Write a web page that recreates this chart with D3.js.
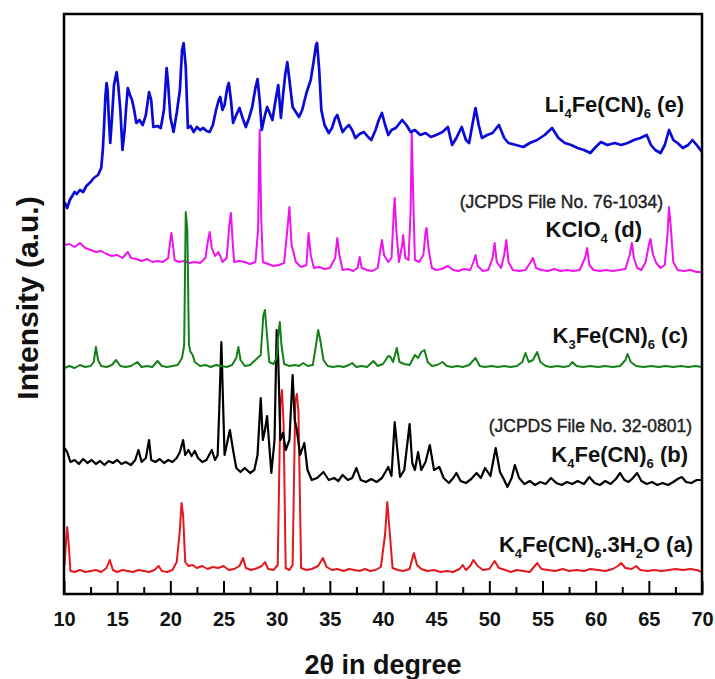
<!DOCTYPE html>
<html>
<head>
<meta charset="utf-8">
<script src="https://cdn.jsdelivr.net/npm/d3@7"></script>
<style>
  body { margin: 0; background: #fff; }
  text { font-family: "Liberation Sans", Arial, sans-serif; }
</style>
</head>
<body>
<div id="chart"></div>
<script>
// XRD patterns, offset-stacked as in the figure: [2theta, intensity (a.u.)]
var patternA = [[10.05,29],[10.2,54],[10.3,67],[10.45,49],[10.6,23],[11,22],[11.5,24],[12,22],[12.5,23],[13,24],[13.5,22],[14.0,26],[14.3,34],[14.6,24],[15.0,22],[15.5,24],[16,23],[16.5,22],[17,24],[17.5,23],[18,22],[18.5,24],[18.9,28],[19.2,23],[19.7,22],[20.2,24],[20.6,32],[20.9,64],[21.05,91],[21.2,79],[21.4,32],[21.7,28],[22.1,29],[22.5,26],[23,28],[23.5,25],[24,27],[24.5,26],[25,28],[25.5,24],[26,25],[26.5,28],[26.85,36],[27.1,26],[27.6,24],[28.2,26],[28.6,28],[28.9,32],[29.2,25],[29.7,24],[30.1,29],[30.35,190],[30.5,204],[30.65,170],[30.85,26],[31.2,24],[31.5,29],[31.75,192],[31.9,200],[32.05,182],[32.3,26],[32.8,24],[33.3,25],[33.9,28],[34.35,36],[34.7,27],[35.2,24],[35.7,25],[36.3,23],[36.8,25],[37.3,24],[37.8,23],[38.3,25],[38.8,23],[39.3,24],[39.8,27],[40.2,60],[40.4,92],[40.6,66],[40.9,26],[41.4,24],[41.9,23],[42.5,25],[42.9,41],[43.2,29],[43.6,25],[44.2,23],[44.8,24],[45.4,22],[46,23],[46.6,22],[47.2,25],[47.5,29],[47.8,24],[48.2,28],[48.5,34],[48.9,28],[49.4,24],[50,25],[50.5,33],[50.9,26],[51.5,24],[52,22],[52.6,24],[53.2,23],[53.8,22],[54.5,31],[54.9,25],[55.5,24],[56.2,23],[56.9,25],[57.5,23],[58.2,24],[58.9,23],[59.5,25],[60.2,24],[60.9,23],[61.6,25],[62.1,28],[62.4,31],[62.8,26],[63.4,25],[63.8,28],[64.2,24],[64.9,23],[65.5,24],[66.2,23],[66.9,24],[67.5,25],[68.2,24],[68.9,25],[69.5,24],[70,22]];

var patternB = [[10.05,146],[10.3,142],[10.6,132],[11,134],[11.4,130],[11.8,135],[12.2,131],[12.6,134],[13,130],[13.4,133],[13.8,129],[14.2,133],[14.6,131],[15,134],[15.4,130],[15.8,132],[16.3,129],[16.7,134],[17.0,144],[17.3,132],[17.7,136],[18.0,154],[18.2,134],[18.6,132],[19,135],[19.4,131],[19.8,134],[20.2,132],[20.6,136],[20.9,142],[21.2,154],[21.4,139],[21.7,144],[22.0,138],[22.3,143],[22.6,136],[23,132],[23.4,134],[23.9,144],[24.2,134],[24.45,139],[24.6,184],[24.8,252],[24.95,194],[25.1,139],[25.4,154],[25.6,164],[25.9,144],[26.2,126],[26.6,122],[27.0,126],[27.5,121],[27.9,124],[28.2,139],[28.5,196],[28.7,154],[28.9,164],[29.1,178],[29.3,149],[29.5,121],[29.8,154],[30.0,264],[30.15,234],[30.35,154],[30.6,161],[30.85,144],[31.2,154],[31.5,219],[31.7,174],[31.9,164],[32.2,139],[32.6,151],[32.9,124],[33.3,114],[33.8,116],[34.4,122],[34.9,114],[35.4,116],[35.8,113],[36.2,119],[36.7,114],[37.1,116],[37.5,126],[37.9,114],[38.4,112],[38.9,115],[39.4,112],[39.9,116],[40.5,127],[40.8,118],[41.1,172],[41.35,144],[41.6,117],[42.0,124],[42.5,170],[42.75,131],[43.0,124],[43.3,142],[43.6,124],[44.0,132],[44.4,149],[44.8,124],[45.3,127],[45.7,116],[46.2,111],[46.6,116],[46.9,121],[47.3,113],[47.8,111],[48.3,115],[48.8,121],[49.2,116],[49.6,126],[50.1,118],[50.6,146],[51.0,122],[51.4,114],[51.7,107],[52.1,116],[52.4,129],[52.8,116],[53.3,110],[53.8,113],[54.3,109],[54.8,112],[55.3,110],[55.8,116],[56.3,111],[56.8,109],[57.3,112],[57.8,110],[58.3,113],[58.9,110],[59.4,117],[59.9,111],[60.4,109],[60.9,113],[61.4,110],[61.9,115],[62.3,121],[62.7,114],[63.1,112],[63.5,116],[63.9,121],[64.3,113],[64.8,110],[65.3,112],[65.8,109],[66.3,111],[66.8,109],[67.3,112],[67.7,115],[68.1,117],[68.5,112],[69.0,111],[69.5,114],[70.0,114]];

var patternC = [[10.05,226],[10.5,228],[11,226],[11.5,229],[12,227],[12.5,228],[12.8,232],[13.0,247],[13.2,234],[13.5,228],[14,227],[14.5,229],[14.9,234],[15.3,228],[15.8,227],[16.3,228],[16.9,232],[17.3,227],[17.8,228],[18.3,227],[18.8,233],[19.2,228],[19.7,227],[20.2,228],[20.7,229],[21.1,236],[21.3,249],[21.45,382],[21.6,364],[21.75,249],[21.9,242],[22.1,239],[22.3,232],[22.8,228],[23.3,229],[23.8,227],[24.3,229],[24.8,228],[25.3,227],[25.8,229],[26.2,236],[26.4,247],[26.6,234],[27,228],[27.5,229],[28.1,235],[28.5,239],[28.75,279],[28.9,284],[29.05,264],[29.3,232],[29.7,230],[30.0,236],[30.2,264],[30.3,272],[30.45,249],[30.7,230],[31.2,228],[31.7,229],[32.1,228],[32.5,231],[32.9,228],[33.4,229],[33.7,249],[33.9,264],[34.1,254],[34.4,234],[34.8,228],[35.3,227],[35.8,228],[36.3,227],[36.8,229],[37.1,231],[37.5,227],[38,228],[38.5,227],[39.1,233],[39.5,228],[40,230],[40.5,238],[40.7,237],[40.95,232],[41.3,246],[41.55,232],[42,230],[42.5,229],[43.0,239],[43.3,236],[43.6,242],[43.9,244],[44.2,232],[44.6,228],[45.1,229],[45.6,232],[46,228],[46.5,227],[47,228],[47.5,227],[48.1,229],[48.7,236],[49.1,228],[49.6,227],[50.2,228],[50.8,227],[51.4,228],[52,227],[52.6,228],[53.1,232],[53.4,241],[53.7,232],[54.1,234],[54.5,242],[54.8,232],[55.3,228],[55.8,227],[56.4,228],[57,227],[57.5,228],[57.8,232],[58.2,228],[58.8,227],[59.5,228],[60.2,227],[60.9,228],[61.6,227],[62.3,228],[62.8,234],[63.0,240],[63.3,232],[63.8,228],[64.5,227],[65.2,228],[65.9,227],[66.6,228],[67.3,227],[68,228],[68.7,227],[69.4,228],[70,227]];

var patternD = [[10.05,349],[10.5,350],[11,347],[11.5,351],[12,346],[12.5,344],[13,342],[13.5,343],[14,340],[14.5,338],[15,339],[15.5,336],[16.0,342],[16.3,336],[16.8,335],[17.3,333],[17.8,335],[18.3,332],[18.8,333],[19.3,332],[19.8,336],[20.0,354],[20.1,361],[20.25,349],[20.4,334],[20.8,332],[21.3,333],[21.8,331],[22.3,332],[22.8,331],[23.3,336],[23.55,354],[23.7,362],[23.9,346],[24.2,338],[24.5,342],[24.7,338],[24.9,332],[25.3,336],[25.55,369],[25.7,381],[25.85,354],[26.0,332],[26.5,333],[27,332],[27.5,330],[28.0,332],[28.25,364],[28.4,464],[28.55,374],[28.7,332],[29.2,330],[29.7,328],[30.2,329],[30.7,331],[31.0,364],[31.2,387],[31.4,349],[31.6,341],[31.8,332],[32.3,327],[32.8,329],[33.0,361],[33.2,339],[33.5,326],[34,327],[34.5,325],[35.0,326],[35.5,336],[35.7,356],[35.9,339],[36.2,324],[36.7,325],[37.2,323],[37.6,326],[37.8,337],[38.0,326],[38.5,324],[39,323],[39.5,326],[39.75,344],[39.9,354],[40.1,339],[40.5,332],[40.8,336],[41.0,379],[41.1,396],[41.25,364],[41.5,332],[41.8,349],[41.9,359],[42.1,336],[42.4,334],[42.6,384],[42.7,461],[42.85,394],[43.0,334],[43.4,332],[43.8,339],[44.0,362],[44.1,366],[44.3,344],[44.6,326],[45,324],[45.5,325],[46.1,328],[46.6,324],[47.1,323],[47.6,325],[48.2,324],[48.5,332],[48.7,339],[48.9,328],[49.4,323],[49.9,324],[50.3,336],[50.5,351],[50.7,332],[51.1,326],[51.4,339],[51.6,354],[51.8,332],[52.2,324],[52.8,323],[53.4,324],[53.9,332],[54.1,336],[54.4,326],[54.9,324],[55.5,323],[56.1,325],[56.7,323],[57.3,324],[57.9,323],[58.5,324],[59.0,336],[59.2,346],[59.4,329],[59.8,324],[60.4,323],[61,324],[61.6,323],[62.2,324],[62.8,325],[63.2,339],[63.4,351],[63.6,336],[63.9,326],[64.3,324],[64.7,332],[65.0,349],[65.15,355],[65.4,339],[65.7,331],[66.1,326],[66.5,329],[66.75,359],[66.9,387],[67.05,369],[67.3,332],[67.7,324],[68.3,323],[68.9,324],[69.5,322],[70,322]];

var patternE = [[10.05,392],[10.3,386],[10.55,394],[11.0,402],[11.2,400],[11.5,404],[11.8,402],[12.1,408],[12.5,412],[12.8,416],[13.2,419],[13.5,426],[13.65,444],[13.75,464],[13.9,499],[14.0,511],[14.1,504],[14.2,479],[14.35,451],[14.5,474],[14.7,509],[14.95,522],[15.1,509],[15.3,484],[15.5,444],[15.7,464],[15.85,487],[16.0,506],[16.2,499],[16.4,494],[16.6,484],[16.8,471],[17.1,474],[17.4,469],[17.7,479],[18.0,502],[18.2,494],[18.4,467],[18.8,468],[19.1,466],[19.4,484],[19.65,526],[19.8,509],[20.0,477],[20.3,462],[20.6,481],[20.9,504],[21.1,544],[21.25,551],[21.45,527],[21.65,466],[21.9,468],[22.2,462],[22.5,467],[22.8,464],[23.1,466],[23.4,463],[23.7,462],[24.0,469],[24.3,484],[24.55,494],[24.7,497],[24.9,484],[25.1,489],[25.35,506],[25.5,511],[25.7,494],[25.9,471],[26.2,479],[26.5,486],[26.8,476],[27.1,467],[27.4,476],[27.7,487],[28.0,506],[28.2,515],[28.4,494],[28.6,464],[28.9,479],[29.1,487],[29.3,482],[29.6,474],[29.9,494],[30.15,509],[30.4,476],[30.6,499],[30.8,519],[31.0,532],[31.2,514],[31.5,487],[31.8,482],[32.1,477],[32.4,484],[32.8,501],[33.2,514],[33.5,534],[33.7,549],[33.8,551],[34.0,524],[34.2,484],[34.5,469],[34.9,461],[35.2,466],[35.5,476],[35.7,479],[35.9,472],[36.2,462],[36.5,466],[36.8,469],[37.1,464],[37.4,456],[37.8,460],[38.2,462],[38.6,457],[38.9,454],[39.3,464],[39.6,474],[39.9,481],[40.2,469],[40.5,459],[40.8,464],[41.2,466],[41.8,474],[42.2,469],[42.6,462],[43.0,464],[43.5,459],[44.0,461],[44.5,457],[45.0,459],[45.6,462],[46.1,467],[46.5,449],[46.9,456],[47.4,467],[47.8,454],[48.1,451],[48.4,469],[48.7,486],[49.0,469],[49.3,456],[49.8,459],[50.3,461],[50.9,469],[51.4,456],[51.8,451],[52.5,449],[53.2,447],[53.8,451],[54.5,454],[55.2,459],[55.9,466],[56.5,456],[57.1,451],[57.7,449],[58.3,446],[58.9,444],[59.5,441],[60.0,447],[60.5,452],[61.1,449],[61.8,451],[62.4,449],[63.0,451],[63.6,454],[64.2,456],[64.8,459],[65.2,449],[65.6,444],[66.1,441],[66.5,449],[66.9,464],[67.3,454],[67.7,451],[68.2,446],[68.7,449],[69.1,454],[69.5,449],[70.0,442]];

// axis ticks
var majorTicks = [10, 15, 20, 25, 30, 35, 40, 45, 50, 55, 60, 65, 70];
var minorTicks = [12.5, 17.5, 22.5, 27.5, 32.5, 37.5, 42.5, 47.5, 52.5, 57.5, 62.5, 67.5];

// series drawn in this order (later ones on top)
var seriesList = [
  { name: "a", data: patternA, color: "#e3171c", width: 2 },
  { name: "b", data: patternB, color: "#000000", width: 2.2 },
  { name: "d", data: patternD, color: "#ee12ee", width: 2 },
  { name: "c", data: patternC, color: "#15801a", width: 2 },
  { name: "e", data: patternE, color: "#0a0ad8", width: 2.7 }
];

// labels: pieces are [text, isSubscript]
var seriesLabels = [
  { parts: [["Li", 0], ["4", 1], ["Fe(CN)", 0], ["6", 1], [" (e)", 0]], x: 684, y: 112 },
  { parts: [["KClO", 0], ["4", 1], [" (d)", 0]], x: 642, y: 237 },
  { parts: [["K", 0], ["3", 1], ["Fe(CN)", 0], ["6", 1], [" (c)", 0]], x: 688, y: 343 },
  { parts: [["K", 0], ["4", 1], ["Fe(CN)", 0], ["6", 1], [" (b)", 0]], x: 688, y: 462 },
  { parts: [["K", 0], ["4", 1], ["Fe(CN)", 0], ["6", 1], [".3H", 0], ["2", 1], ["O (a)", 0]], x: 693, y: 552 }
];
var refLabels = [
  { text: "(JCPDS File No. 76-1034)", x: 663, y: 208 },
  { text: "(JCPDS File No. 32-0801)", x: 692, y: 432 }
];

var W = 715, H = 679;
var margin = { top: 14, right: 13, bottom: 85, left: 64 },
  width = W - margin.left - margin.right,
  height = H - margin.top - margin.bottom;

var svg = d3.select("#chart").append("svg")
  .attr("width", W)
  .attr("height", H);

var g = svg.append("g")
  .attr("transform", "translate(" + margin.left + "," + margin.top + ")");

var x = d3.scaleLinear().domain([10, 70]).range([0, width]);
var y = d3.scaleLinear().domain([0, 580]).range([height, 0]);

g.append("clipPath").attr("id", "clip")
  .append("rect").attr("width", width).attr("height", height);

var line = d3.line()
  .x(function(d) { return x(d[0]); })
  .y(function(d) { return y(d[1]); });

g.append("g").attr("clip-path", "url(#clip)")
  .selectAll("path")
  .data(seriesList)
  .enter().append("path")
    .attr("fill", "none")
    .attr("stroke", function(d) { return d.color; })
    .attr("stroke-width", function(d) { return d.width; })
    .attr("stroke-linejoin", "round")
    .attr("d", function(d) { return line(d.data); });

// bottom axis, ticks pointing inward
var xAxis = g.append("g")
  .attr("transform", "translate(0," + height + ")")
  .call(d3.axisBottom(x).tickValues(majorTicks).tickSizeInner(-13).tickSizeOuter(0).tickPadding(18));
xAxis.select(".domain").remove();
xAxis.selectAll(".tick line").attr("stroke-width", 2);
xAxis.selectAll(".tick text")
  .attr("font-size", 20)
  .attr("font-weight", "bold")
  .attr("font-family", "Liberation Sans, Arial, sans-serif")
  .attr("fill", "#111");

g.append("g")
  .attr("transform", "translate(0," + height + ")")
  .call(d3.axisBottom(x).tickValues(minorTicks).tickSizeInner(-7).tickSizeOuter(0).tickFormat(""))
  .call(function(s) {
    s.select(".domain").remove();
    s.selectAll(".tick line").attr("stroke-width", 2);
  });

// frame
g.append("rect")
  .attr("width", width)
  .attr("height", height)
  .attr("fill", "none")
  .attr("stroke", "#000")
  .attr("stroke-width", 2.5);

// series labels
seriesLabels.forEach(function(l) {
  var t = svg.append("text")
    .attr("x", l.x)
    .attr("y", l.y)
    .attr("text-anchor", "end")
    .attr("font-size", 22)
    .attr("font-weight", "bold")
    .attr("fill", "#111");
  l.parts.forEach(function(p, i) {
    var ts = t.append("tspan").text(p[0]);
    if (p[1]) {
      ts.attr("font-size", 13).attr("dy", 6);
    } else if (i > 0 && l.parts[i - 1][1]) {
      ts.attr("dy", -6);
    }
  });
});

refLabels.forEach(function(l) {
  svg.append("text")
    .attr("x", l.x)
    .attr("y", l.y)
    .attr("text-anchor", "end")
    .attr("font-size", 17.5)
    .attr("fill", "#222")
    .attr("stroke", "#222")
    .attr("stroke-width", 0.4)
    .text(l.text);
});

// axis titles
svg.append("text")
  .attr("x", 383)
  .attr("y", 674)
  .attr("text-anchor", "middle")
  .attr("font-size", 27)
  .attr("font-weight", "bold")
  .attr("fill", "#111")
  .text("2θ in degree");

svg.append("text")
  .attr("transform", "translate(38,298) rotate(-90)")
  .attr("text-anchor", "middle")
  .attr("font-size", 30)
  .attr("font-weight", "bold")
  .attr("fill", "#111")
  .text("Intensity (a.u.)");
</script>
</body>
</html>
